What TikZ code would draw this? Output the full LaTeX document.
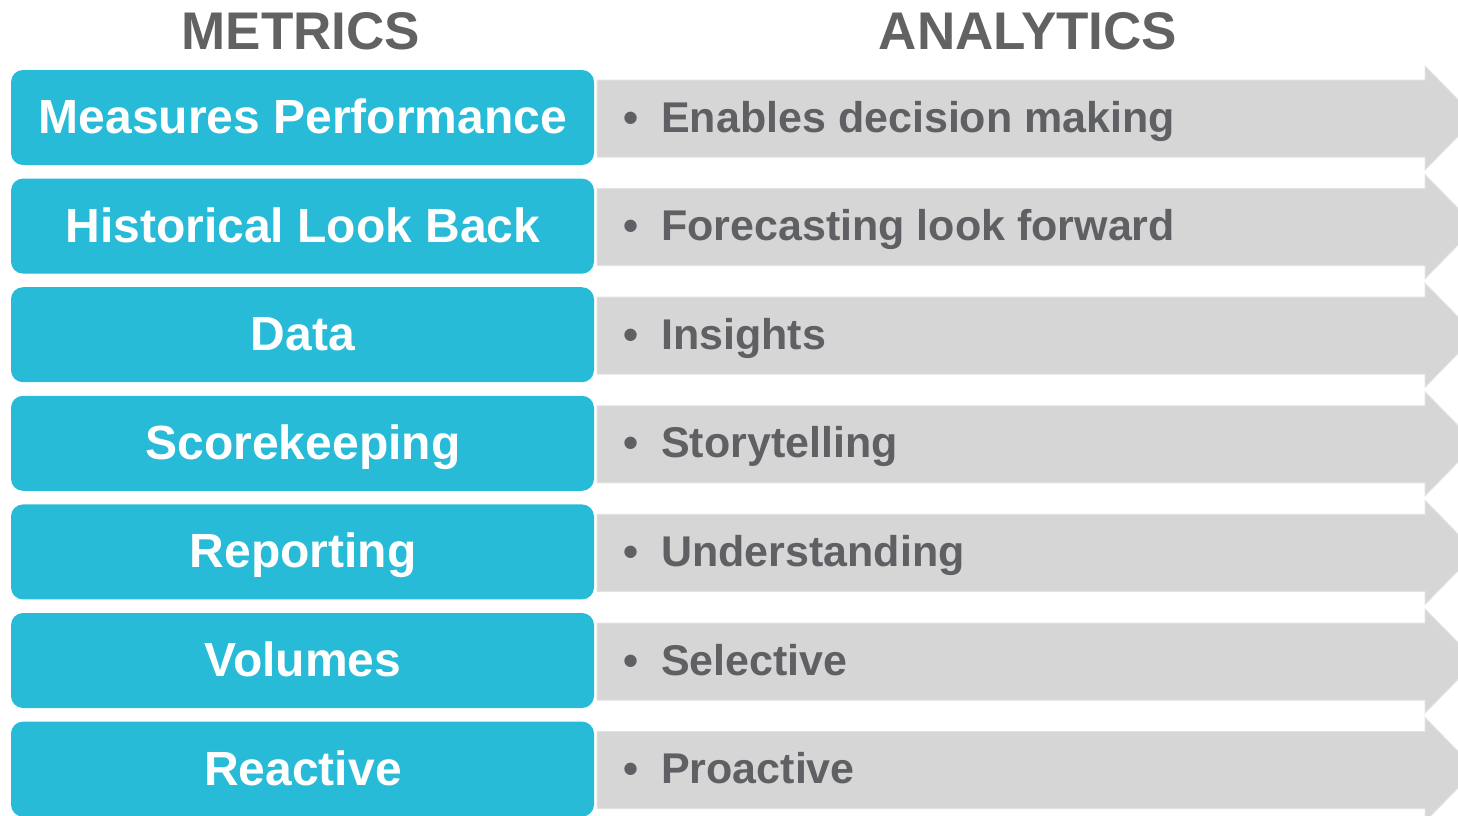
\documentclass[tikz,border=0pt]{standalone}
\usepackage{fontspec}
\setmainfont{Liberation Sans}
\definecolor{mblue}{HTML}{28BBD7}
\definecolor{agray}{HTML}{D6D6D6}
\definecolor{aedge}{HTML}{E2E2E2}
\definecolor{tgray}{HTML}{5F6064}
\definecolor{hgray}{HTML}{626262}
\begin{document}
\begin{tikzpicture}[x=1pt,y=-1pt,
  mbox/.style={fill=mblue,draw=none,rounded corners=12pt},
  aarrow/.style={fill=agray,draw=aedge,line width=1pt},
  mtext/.style={text=white,font=\fontsize{48}{48}\bfseries\selectfont,anchor=base,inner sep=0pt},
  atext/.style={text=tgray,font=\fontsize{43}{43}\bfseries\selectfont,anchor=base west,inner sep=0pt},
  htext/.style={text=hgray,font=\fontsize{53}{53}\bfseries\selectfont,anchor=base,inner sep=0pt}]
\useasboundingbox (0,0) rectangle (1458,815);
\begin{scope}
\clip (0,0) rectangle (1458,815);
\node[htext] (hm) at (301,49) {METRICS};
\node[htext] (ha) at (1028,49) {ANALYTICS};
\foreach \i/\m/\a in {0/Measures Performance/Enables decision making,
                      1/Historical Look Back/Forecasting look forward,
                      2/Data/Insights,
                      3/Scorekeeping/Storytelling,
                      4/Reporting/Understanding,
                      5/Volumes/Selective,
                      6/Reactive/Proactive}{
  \pgfmathsetmacro{\t}{70+\i*108.6}
  \draw[aarrow] (597,\t+10) -- (1425,\t+10) -- (1425,\t-4) -- (1476,\t+48) -- (1425,\t+100) -- (1425,\t+87) -- (597,\t+87) -- cycle;
  \fill[mbox] (11,\t) rectangle (594,\t+95);
  \node[mtext] (m\i) at (303,\t+63.5) {\m};
  \node[atext] (a\i) at (623,\t+62) {\textbullet\hspace{23pt}\a};
}
\end{scope}
\end{tikzpicture}
\end{document}
